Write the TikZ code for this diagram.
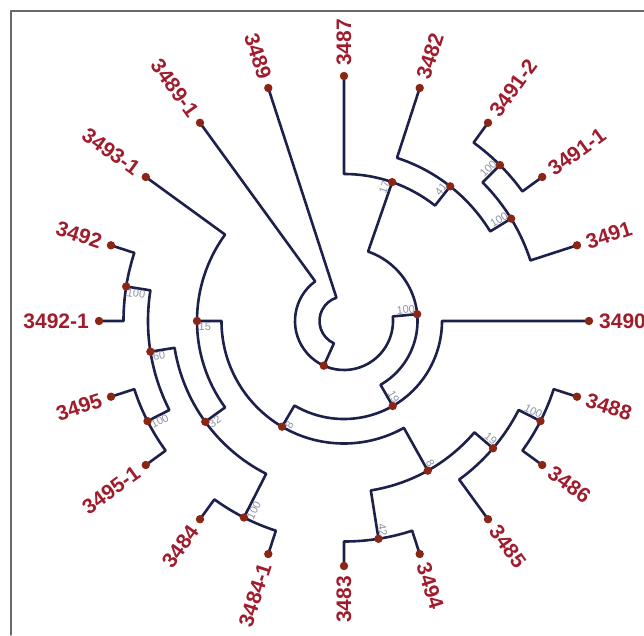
\documentclass[tikz,border=0pt]{standalone}
\usepackage{fontspec}
\setmainfont{Liberation Sans}
\definecolor{treeline}{RGB}{30,32,76}
\definecolor{tipdot}{RGB}{140,38,20}
\definecolor{tiptext}{RGB}{160,28,45}
\definecolor{support}{RGB}{140,147,165}
\definecolor{boxgray}{RGB}{105,105,105}

\begin{document}
\begin{tikzpicture}[x=1pt, y=1pt, line cap=round, line join=round,
  branch/.style={draw=treeline, line width=2.6pt},
  leaflab/.style={text=tiptext, inner sep=0pt, font=\fontsize{21}{21}\selectfont\bfseries},
  boot/.style={text=support, inner sep=1.5pt, font=\fontsize{11}{11}\selectfont}]
\useasboundingbox (-344,-314) rectangle (300,321);
\draw[boxgray, line width=1.3pt] (-333,-314) -- (-333,310) -- (300,310);

%leaves
\coordinate (t3490) at (0:245);
\coordinate (t3491) at (18:245);
\coordinate (t3491-1) at (36:245);
\coordinate (t3491-2) at (54:245);
\coordinate (t3482) at (72:245);
\coordinate (t3487) at (90:245);
\coordinate (t3489) at (108:245);
\coordinate (t3489-1) at (126:245);
\coordinate (t3493-1) at (144:245);
\coordinate (t3492) at (162:245);
\coordinate (t3492-1) at (180:245);
\coordinate (t3495) at (198:245);
\coordinate (t3495-1) at (216:245);
\coordinate (t3484) at (234:245);
\coordinate (t3484-1) at (252:245);
\coordinate (t3483) at (270:245);
\coordinate (t3494) at (288:245);
\coordinate (t3485) at (306:245);
\coordinate (t3486) at (324:245);
\coordinate (t3488) at (342:245);

%clades
\coordinate (nA) at (45:220.5);
\coordinate (nB) at (31.5:196);
\coordinate (nC) at (51.75:171.5);
\coordinate (nD) at (70.875:147);
\coordinate (nE) at (333:220.5);
\coordinate (nF) at (319.5:196);
\coordinate (nG) at (279:220.5);
\coordinate (nH) at (299.25:171.5);
\coordinate (nI) at (171:220.5);
\coordinate (nJ) at (207:220.5);
\coordinate (nK) at (189:196);
\coordinate (nL) at (243:220.5);
\coordinate (nM) at (216:171.5);
\coordinate (nN) at (180:147);
\coordinate (nO) at (239.625:122.5);
\coordinate (nP) at (299.8125:98);
\coordinate (nQ) at (5.34375:73.5);
\coordinate (nR) at (245.671875:49);

%branches
\draw[branch] (t3491-1) -- (36:220.5) arc[start angle=36, end angle=54, radius=220.5] -- (t3491-2);
\draw[branch] (t3491) -- (18:196) arc[start angle=18, end angle=45, radius=196] -- (nA);
\draw[branch] (nB) -- (31.5:171.5) arc[start angle=31.5, end angle=72, radius=171.5] -- (t3482);
\draw[branch] (nC) -- (51.75:147) arc[start angle=51.75, end angle=90, radius=147] -- (t3487);
\draw[branch] (t3486) -- (324:220.5) arc[start angle=324, end angle=342, radius=220.5] -- (t3488);
\draw[branch] (t3485) -- (306:196) arc[start angle=306, end angle=333, radius=196] -- (nE);
\draw[branch] (t3483) -- (270:220.5) arc[start angle=270, end angle=288, radius=220.5] -- (t3494);
\draw[branch] (nG) -- (279:171.5) arc[start angle=279, end angle=319.5, radius=171.5] -- (nF);
\draw[branch] (t3492) -- (162:220.5) arc[start angle=162, end angle=180, radius=220.5] -- (t3492-1);
\draw[branch] (t3495) -- (198:220.5) arc[start angle=198, end angle=216, radius=220.5] -- (t3495-1);
\draw[branch] (nI) -- (171:196) arc[start angle=171, end angle=207, radius=196] -- (nJ);
\draw[branch] (t3484) -- (234:220.5) arc[start angle=234, end angle=252, radius=220.5] -- (t3484-1);
\draw[branch] (nK) -- (189:171.5) arc[start angle=189, end angle=243, radius=171.5] -- (nL);
\draw[branch] (t3493-1) -- (144:147) arc[start angle=144, end angle=216, radius=147] -- (nM);
\draw[branch] (nN) -- (180:122.5) arc[start angle=180, end angle=299.25, radius=122.5] -- (nH);
\draw[branch] (nO) -- (239.625:98) arc[start angle=239.625, end angle=360, radius=98] -- (t3490);
\draw[branch] (nP) -- (-60.1875:73.5) arc[start angle=-60.1875, end angle=70.875, radius=73.5] -- (nD);
\draw[branch] (t3489-1) -- (126:49) arc[start angle=126, end angle=365.34375, radius=49] -- (nQ);
\draw[branch] (t3489) -- (108:24.5) arc[start angle=108, end angle=245.671875, radius=24.5] -- (nR);

%dots
\foreach \n in {t3490,t3491,t3491-1,t3491-2,t3482,t3487,t3489,t3489-1,t3493-1,t3492,
  t3492-1,t3495,t3495-1,t3484,t3484-1,t3483,t3494,t3485,t3486,t3488,
  nA,nB,nC,nD,nE,nF,nG,nH,nI,nJ,nK,nL,nM,nN,nO,nP,nQ,nR}
  \fill[tipdot] (\n) circle (4.2);

%tip names
\node[leaflab, rotate=0, anchor=west] (l3490) at (0:255) {3490};
\node[leaflab, rotate=18, anchor=west] (l3491) at (18:255) {3491};
\node[leaflab, rotate=36, anchor=west] (l3491-1) at (36:255) {3491-1};
\node[leaflab, rotate=54, anchor=west] (l3491-2) at (54:255) {3491-2};
\node[leaflab, rotate=72, anchor=west] (l3482) at (72:255) {3482};
\node[leaflab, rotate=90, anchor=west] (l3487) at (90:255) {3487};
\node[leaflab, rotate=-72, anchor=east] (l3489) at (108:255) {3489};
\node[leaflab, rotate=-54, anchor=east] (l3489-1) at (126:255) {3489-1};
\node[leaflab, rotate=-36, anchor=east] (l3493-1) at (144:255) {3493-1};
\node[leaflab, rotate=-18, anchor=east] (l3492) at (162:255) {3492};
\node[leaflab, rotate=0, anchor=east] (l3492-1) at (180:255) {3492-1};
\node[leaflab, rotate=18, anchor=east] (l3495) at (198:255) {3495};
\node[leaflab, rotate=36, anchor=east] (l3495-1) at (216:255) {3495-1};
\node[leaflab, rotate=54, anchor=east] (l3484) at (234:255) {3484};
\node[leaflab, rotate=72, anchor=east] (l3484-1) at (252:255) {3484-1};
\node[leaflab, rotate=90, anchor=east] (l3483) at (270:255) {3483};
\node[leaflab, rotate=-72, anchor=west] (l3494) at (288:255) {3494};
\node[leaflab, rotate=-54, anchor=west] (l3485) at (306:255) {3485};
\node[leaflab, rotate=-36, anchor=west] (l3486) at (324:255) {3486};
\node[leaflab, rotate=-18, anchor=west] (l3488) at (342:255) {3488};

%support values
\node[boot, rotate=45, anchor=south east] (sA) at (nA) {100};
\node[boot, rotate=31.5, anchor=south east] (sB) at (nB) {100};
\node[boot, rotate=51.75, anchor=south east] (sC) at (nC) {41};
\node[boot, rotate=70.875, anchor=south east] (sD) at (nD) {17};
\node[boot, rotate=333, anchor=south east] (sE) at (nE) {100};
\node[boot, rotate=319.5, anchor=south east] (sF) at (nF) {19};
\node[boot, rotate=279, anchor=south east] (sG) at (nG) {42};
\node[boot, rotate=299.25, anchor=south east] (sH) at (nH) {8};
\node[boot, rotate=-9, anchor=north west] (sI) at (nI) {100};
\node[boot, rotate=27, anchor=north west] (sJ) at (nJ) {100};
\node[boot, rotate=9, anchor=north west] (sK) at (nK) {60};
\node[boot, rotate=63, anchor=north west] (sL) at (nL) {100};
\node[boot, rotate=36, anchor=north west] (sM) at (nM) {32};
\node[boot, rotate=0, anchor=north west] (sN) at (nN) {15};
\node[boot, rotate=59.625, anchor=north west] (sO) at (nO) {8};
\node[boot, rotate=299.8125, anchor=south east] (sP) at (nP) {19};
\node[boot, rotate=5.34375, anchor=south east] (sQ) at (nQ) {100};
\end{tikzpicture}
\end{document}
